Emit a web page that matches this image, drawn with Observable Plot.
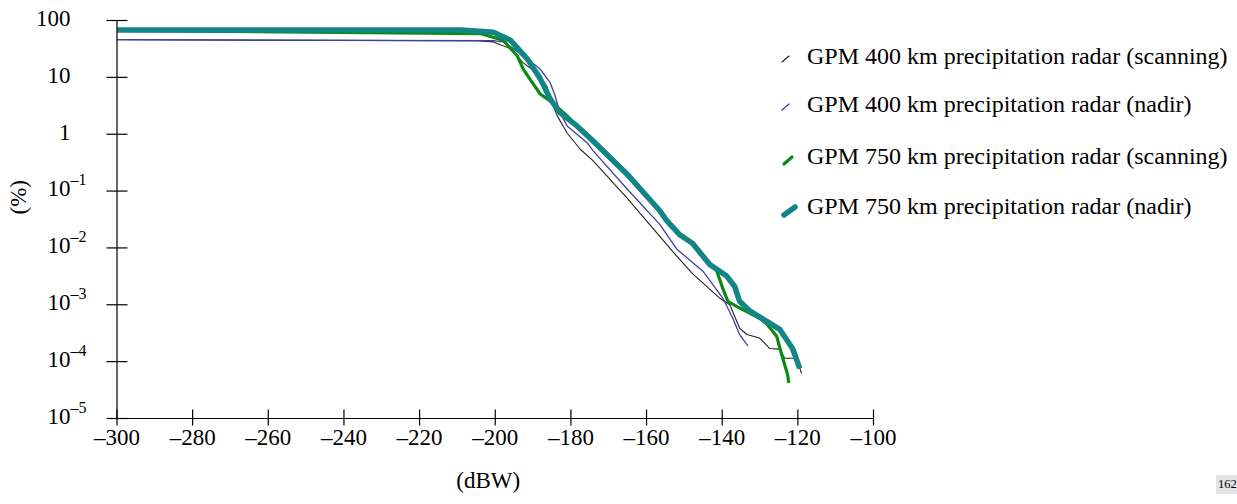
<!DOCTYPE html>
<html>
<head>
<meta charset="utf-8">
<script src="https://cdn.jsdelivr.net/npm/d3@7"></script>
<script src="https://cdn.jsdelivr.net/npm/@observablehq/plot@0.6"></script>
<style>
  html, body { margin: 0; padding: 0; background: #fff; overflow: hidden; }
  #wrap { position: relative; width: 1237px; height: 504px; font-family: "Liberation Serif", "Times New Roman", serif; }
  .leg { position: absolute; left: 778px; height: 28px; line-height: 28px; font-size: 24px; color: #000; white-space: nowrap; }
  .leg svg { position: absolute; left: 0; top: 0; }
  .leg span { position: absolute; left: 29px; top: 0; }
  #fig { position: absolute; left: 1216px; top: 475px; width: 40px; height: 19px; background: #e4e4e4; font-size: 12.5px; line-height: 19px; padding-left: 2px; }
</style>
</head>
<body>
<div id="wrap"></div>
<script>
// ---------- data ----------
const seriesNames = [
  "GPM 400 km precipitation radar (scanning)",
  "GPM 400 km precipitation radar (nadir)",
  "GPM 750 km precipitation radar (scanning)",
  "GPM 750 km precipitation radar (nadir)"
];
// power (dBW) and exceedance percentage (%)
const gpm400scanX = [-300, -204.8, -200.5, -196.0, -192.6, -189.1, -186.4, -185.0, -183.6, -181.0, -177.6, -174.1, -165.2, -156.5, -153.0, -147.8, -140.6, -138.0, -135.4, -133.5, -130.1, -127.4, -124.8, -123.5, -120.4, -119.0];
const gpm400scanY = [46, 44, 42, 32, 18, 12, 7.1, 3.5, 2.1, 1.05, 0.55, 0.34, 0.076, 0.016, 0.0085, 0.0035, 0.0013, 0.001, 0.00039, 0.0003, 0.00026, 0.00017, 0.000166, 0.000115, 0.000115, 0.000062];
const gpm400nadirX = [-300, -200, -197.9, -195.2, -191.5, -188.1, -185.5, -184.2, -182.9, -181.0, -175.7, -174.1, -165.2, -156.5, -152.0, -145.1, -139.8, -137.2, -135.4, -133.2];
const gpm400nadirY = [46, 44, 42, 32, 21, 14, 8.1, 4.8, 2.4, 1.4, 0.71, 0.51, 0.11, 0.026, 0.0095, 0.0039, 0.0013, 0.00058, 0.0003, 0.00019];
const gpm750scanX = [-300, -204, -197.9, -194.2, -192.6, -190.2, -188.1, -184.7, -181.0, -174.1, -165.2, -156.5, -151.2, -147.8, -141.4, -139.8, -138.5, -136.1, -130.1, -128.2, -125.6, -124.3, -122.7, -122.4];
const gpm750scanY = [67, 59, 45, 24, 14, 8.1, 5.1, 3.5, 2.1, 0.71, 0.19, 0.044, 0.017, 0.012, 0.0039, 0.0019, 0.00115, 0.00093, 0.00058, 0.00046, 0.00028, 0.000135, 0.000059, 0.000042];
const gpm750nadirX = [-300, -209, -200.5, -196, -191.5, -188.1, -185.5, -182.9, -178.4, -174.1, -165.2, -156.5, -154.6, -151.2, -147.8, -143.3, -138.8, -136.7, -135.4, -132.7, -128.2, -124.8, -121.4, -119.5];
const gpm750nadirY = [68, 68, 62, 45, 21, 9.5, 4.2, 2.4, 1.4, 0.76, 0.20, 0.045, 0.030, 0.017, 0.012, 0.0051, 0.0032, 0.0021, 0.00115, 0.00078, 0.00051, 0.00037, 0.00017, 0.000076];

const xTicks = [-300, -280, -260, -240, -220, -200, -180, -160, -140, -120, -100];
const xTickLabels = ["–300", "–280", "–260", "–240", "–220", "–200", "–180", "–160", "–140", "–120", "–100"];
const yTicks = [1e-5, 1e-4, 1e-3, 1e-2, 1e-1, 1, 10, 100];
const yTickBase = ["10", "10", "10", "10", "10", "1", "10", "100"];
const yTickExp = ["–5", "–4", "–3", "–2", "–1", "", "", ""];
const xLabel = "(dBW)";
const yLabel = "(%)";

// ---------- styles ----------
const colors = ["#222222", "#3f3fa6", "#0b8a14", "#138585"];
const widths = [1.1, 1.3, 3.2, 5.5];

const xs = [gpm400scanX, gpm400nadirX, gpm750scanX, gpm750nadirX];
const ys = [gpm400scanY, gpm400nadirY, gpm750scanY, gpm750nadirY];
const tables = xs.map((xarr, i) => xarr.map((x, j) => ({x, y: ys[i][j], s: seriesNames[i]})));

const W = 1237, H = 504, mL = 116.5, mR = 364, mT = 20, mB = 86;
const frameW = W - mL - mR, frameH = H - mT - mB;

const yt = yTicks.map((v, i) => ({v, base: yTickBase[i], exp: yTickExp[i]}));

const chart = Plot.plot({
  width: W, height: H,
  marginLeft: mL, marginRight: mR, marginTop: mT, marginBottom: mB,
  style: {fontFamily: "'Liberation Serif', 'Times New Roman', serif", fontSize: "23px", background: "#fff", color: "#000", overflow: "visible"},
  x: {domain: [-300, -100], axis: null},
  y: {type: "log", domain: [1e-5, 100], axis: null},
  marks: [
    // curves
    ...tables.map((t, i) => Plot.line(t, {x: "x", y: "y", stroke: colors[i], strokeWidth: widths[i], strokeLinejoin: "round", strokeLinecap: "butt"})),
    // axis lines
    Plot.ruleX([-300], {stroke: "#000", strokeWidth: 1.2}),
    Plot.ruleY([1e-5], {stroke: "#000", strokeWidth: 1.2}),
    // tick marks crossing the axes
    Plot.ruleY(yTicks, {y: d => d, stroke: "#000", strokeWidth: 1.2, insetLeft: -10, insetRight: frameW - 11}),
    Plot.ruleX(xTicks, {x: d => d, stroke: "#000", strokeWidth: 1.2, insetTop: frameH - 8.5, insetBottom: -7.5}),
    // tick labels
    Plot.text(xTicks, {x: d => d, frameAnchor: "bottom", dy: 26, text: (d, i) => xTickLabels[i], fontSize: 23, fill: "#000"}),
    Plot.text(yt, {y: "v", frameAnchor: "left", dx: -46.5, dy: -2, text: "base", textAnchor: "end", fontSize: 23, fill: "#000"}),
    Plot.text(yt.filter(d => d.exp), {y: "v", frameAnchor: "left", dx: -46.5, dy: -11, text: "exp", textAnchor: "start", fontSize: 16, fill: "#000"}),
    // axis titles
    Plot.text([xLabel], {frameAnchor: "bottom", dx: -7, dy: 69, text: d => d, fontSize: 23, fill: "#000"}),
    Plot.text([yLabel], {frameAnchor: "left", dx: -98.5, dy: -5, rotate: -90, text: d => d, fontSize: 23, fill: "#000"})
  ]
});

const wrap = document.getElementById("wrap");
wrap.appendChild(chart);

// legend
const legTops = [42, 90, 142, 192];
const swatch = [[4, 20, 11, 14], [4, 20, 11, 14], [6, 22, 14, 15], [6, 23, 17, 15]];
seriesNames.forEach((name, i) => {
  const d = document.createElement("div");
  d.className = "leg";
  d.style.top = legTops[i] + "px";
  const [x1, y1, x2, y2] = swatch[i];
  d.innerHTML = `<svg width="30" height="30"><line x1="${x1}" y1="${y1}" x2="${x2}" y2="${y2}" stroke="${colors[i]}" stroke-width="${widths[i]}" stroke-linecap="round"/></svg><span>${name}</span>`;
  wrap.appendChild(d);
});

const fig = document.createElement("div");
fig.id = "fig";
fig.textContent = "162";
wrap.appendChild(fig);
</script>
</body>
</html>
